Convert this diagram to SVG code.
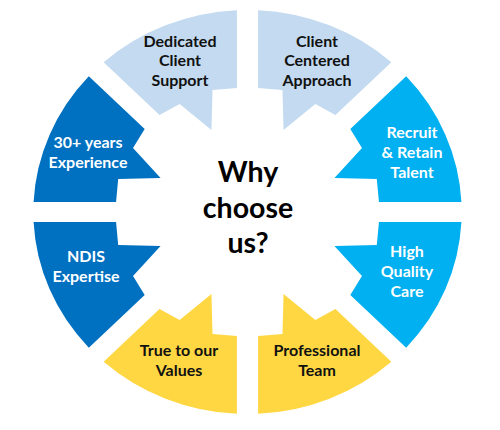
<svg xmlns="http://www.w3.org/2000/svg" xmlns:xlink="http://www.w3.org/1999/xlink" width="500" height="430" viewBox="0 0 500 430">
<style>
text{font-family:Lato,"Open Sans","Liberation Sans",sans-serif;font-weight:bold;text-anchor:middle}
.l{font-size:16px}
.dk{fill:#111}
.wt{fill:#fff}
.c{font-size:28.5px;fill:#000}
</style>
<defs>
<path id="wedge" d="M201.8,-10 L124,-10 L122,-33 L82,-34 L108,-64 L97,-83 L149.7,-135.7 A202,202 0 0 1 201.8,-10 Z"/>
</defs>
<rect width="500" height="430" fill="#fff"/>
<g transform="translate(247.5,212) scale(1.06,1)">
<g id="n-dedicated"><use xlink:href="#wedge" href="#wedge" transform="matrix(0,-1,1,0,0,0)" fill="#C3DAF0"/></g>
<g id="n-client"><use xlink:href="#wedge" href="#wedge" transform="matrix(0,-1,-1,0,0,0)" fill="#C3DAF0"/></g>
<g id="n-recruit"><use xlink:href="#wedge" href="#wedge" fill="#00B0F0"/></g>
<g id="n-high"><use xlink:href="#wedge" href="#wedge" transform="scale(1,-1)" fill="#00B0F0"/></g>
<g id="n-professional"><use xlink:href="#wedge" href="#wedge" transform="matrix(0,1,-1,0,0,0)" fill="#FFD743"/></g>
<g id="n-true"><use xlink:href="#wedge" href="#wedge" transform="matrix(0,1,1,0,0,0)" fill="#FFD743"/></g>
<g id="n-ndis"><use xlink:href="#wedge" href="#wedge" transform="matrix(-1,0,0,-1,0,0)" fill="#0070C0"/></g>
<g id="n-30"><use xlink:href="#wedge" href="#wedge" transform="scale(-1,1)" fill="#0070C0"/></g>
</g>
<g id="labels">
<text class="l dk" x="180" y="47">Dedicated</text>
<text class="l dk" x="180" y="66">Client</text>
<text class="l dk" x="180" y="86">Support</text>
<text class="l dk" x="317" y="47">Client</text>
<text class="l dk" x="317" y="66">Centered</text>
<text class="l dk" x="317" y="86">Approach</text>
<text class="l wt" x="88" y="148">30+ years</text>
<text class="l wt" x="88" y="168">Experience</text>
<text class="l wt" x="412" y="138">Recruit</text>
<text class="l wt" x="412" y="158">&amp; Retain</text>
<text class="l wt" x="412" y="178">Talent</text>
<text class="l wt" x="86" y="262">NDIS</text>
<text class="l wt" x="86" y="282">Expertise</text>
<text class="l wt" x="407" y="257">High</text>
<text class="l wt" x="407" y="277">Quality</text>
<text class="l wt" x="407" y="297">Care</text>
<text class="l dk" x="179" y="356">True to our</text>
<text class="l dk" x="179" y="376">Values</text>
<text class="l dk" x="317" y="356">Professional</text>
<text class="l dk" x="317" y="376">Team</text>
<text class="c" x="248" y="182">Why</text>
<text class="c" x="248" y="218">choose</text>
<text class="c" x="248" y="253">us?</text>
</g>
<g id="connectors"/>
</svg>
